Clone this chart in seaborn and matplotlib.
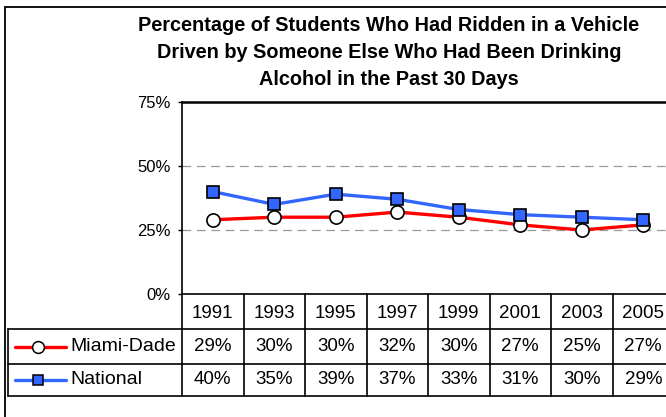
import matplotlib
matplotlib.use('Agg')
import matplotlib.pyplot as plt
import seaborn as sns
import pandas as pd
from matplotlib.patches import Rectangle
from matplotlib.lines import Line2D

# data
years = ['1991', '1993', '1995', '1997', '1999', '2001', '2003', '2005']
miami = [29, 30, 30, 32, 30, 27, 25, 27]
national = [40, 35, 39, 37, 33, 31, 30, 29]
series_names = ['Miami-Dade', 'National']
y_ticks = [0, 25, 50, 75]
title_lines = ['Percentage of Students Who Had Ridden in a Vehicle',
               'Driven by Someone Else Who Had Been Drinking',
               'Alcohol in the Past 30 Days']

red = '#FF0000'
blue = '#3366FF'

sns.set_style('white')
plt.rcParams['font.family'] = ['Liberation Sans', 'DejaVu Sans']
plt.rcParams['text.color'] = 'black'
plt.rcParams['ytick.color'] = 'black'
plt.rcParams['ytick.labelcolor'] = 'black'

W, H = 666, 417
fig = plt.figure(figsize=(W / 100, H / 100), dpi=100)


def fx(px):
    return px / W


def fy(py):
    return 1 - py / H


# plot area (right edge runs past the image, as in the reference crop)
ax_l, ax_r, ax_t, ax_b = 182, 674, 102, 294
ax = fig.add_axes([fx(ax_l), fy(ax_b), fx(ax_r) - fx(ax_l), fy(ax_t) - fy(ax_b)])

df_m = pd.DataFrame({'Ano': years, 'Valor': miami})
df_n = pd.DataFrame({'Ano': years, 'Valor': national})

sns.lineplot(data=df_m, x='Ano', y='Valor', ax=ax, color=red, linewidth=2.4,
             marker='o', markersize=9.5, markerfacecolor='white',
             markeredgecolor='black', markeredgewidth=1.2, sort=False)
sns.lineplot(data=df_n, x='Ano', y='Valor', ax=ax, color=blue, linewidth=2.4,
             marker='s', markersize=8, markerfacecolor=blue,
             markeredgecolor='black', markeredgewidth=1.2, sort=False)

n = len(years)
ax.set_xlim(-0.5, n - 0.5)
ax.set_ylim(0, 75)
ax.set_yticks(y_ticks)
ax.set_yticklabels([f'{t}%' for t in y_ticks], fontsize=12)
ax.set_xticks([])
ax.set_xlabel('')
ax.set_ylabel('')
for g in [25, 50]:
    ax.axhline(g, color='#999999', linewidth=0.9, linestyle=(0, (7, 4.5)), zorder=0)

ax.tick_params(axis='y', which='major', left=True, length=3, width=1, pad=5, color='black')
ax.spines['left'].set_color('black')
ax.spines['left'].set_linewidth(1.2)
ax.spines['top'].set_color('black')
ax.spines['top'].set_linewidth(1.8)
ax.spines['right'].set_visible(False)
ax.spines['bottom'].set_visible(False)

# data table beneath the plot
tr = ax.get_xaxis_transform()
px_unit = (ax_r - ax_l) / n
ax_h = ax_b - ax_t


def dx(px):
    return -0.5 + (px - ax_l) / px_unit


def ay(py):
    return -(py - ax_b) / ax_h


rows_y = [ay(294), ay(329), ay(364), ay(396)]
x_left = dx(8)
lw = 1.2
ax.add_line(Line2D([-0.5, n - 0.5], [rows_y[0]] * 2, transform=tr, color='black', lw=lw, clip_on=False))
for ry in rows_y[1:]:
    ax.add_line(Line2D([x_left, n - 0.5], [ry] * 2, transform=tr, color='black', lw=lw, clip_on=False))
for i in range(n + 1):
    ax.add_line(Line2D([i - 0.5] * 2, [rows_y[0], rows_y[3]], transform=tr, color='black', lw=lw, clip_on=False))
ax.add_line(Line2D([x_left] * 2, [rows_y[1], rows_y[3]], transform=tr, color='black', lw=lw, clip_on=False))

for i, yr in enumerate(years):
    ax.text(i, (rows_y[0] + rows_y[1]) / 2 - 0.01, yr, transform=tr, ha='center', va='center', fontsize=13.5)
    ax.text(i, (rows_y[1] + rows_y[2]) / 2, f'{miami[i]}%', transform=tr, ha='center', va='center', fontsize=13.5)
    ax.text(i, (rows_y[2] + rows_y[3]) / 2, f'{national[i]}%', transform=tr, ha='center', va='center', fontsize=13.5)

# legend keys inside the row labels
keys = [(red, 'o', 'white', 8.5), (blue, 's', blue, 7)]
for k, (name, (col, mk, mfc, ms)) in enumerate(zip(series_names, keys)):
    yc = (rows_y[k + 1] + rows_y[k + 2]) / 2
    ax.add_line(Line2D([dx(15), dx(66)], [yc, yc], transform=tr, color=col, lw=2.4, clip_on=False))
    ax.add_line(Line2D([dx(38)], [yc], transform=tr, marker=mk, markersize=ms, markerfacecolor=mfc,
                       markeredgecolor='black', markeredgewidth=1.1, linestyle='none', clip_on=False))
    ax.text(dx(70), yc, name, transform=tr, ha='left', va='center', fontsize=14)

# title
for j, line in enumerate(title_lines):
    fig.text(fx(389), fy(31 + 27 * j), line, ha='center', va='baseline', fontsize=14.3, fontweight='bold')

# outer chart frame (runs past the right and bottom edge of the crop)
fig.add_artist(Rectangle((fx(5), -0.2), 1.2, fy(7) + 0.2, transform=fig.transFigure,
                         fill=False, edgecolor='black', linewidth=1.3, clip_on=False))

fig.savefig('out.png', dpi=100)
